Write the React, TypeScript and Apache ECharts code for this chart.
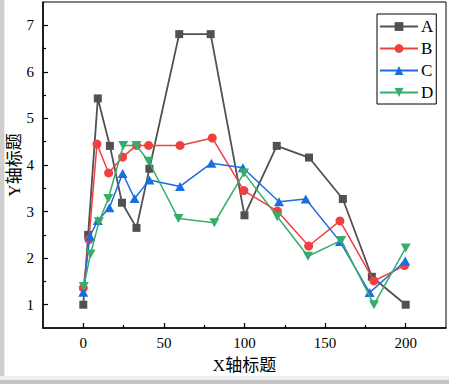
import React, { useEffect, useRef } from "react";
import * as echarts from "echarts";

const seriesNames = ["A", "B", "C", "D"];
const seriesColors = ["#515151", "#F14040", "#1A6FDF", "#37AD6B"];
const seriesSymbols = ["rect", "circle", "triangle", "path://M0,0 L10,0 L5,9 Z"];

const dataA = [[0, 1.0], [3, 2.5], [9, 5.43], [16.5, 4.41], [24, 3.19], [33, 2.65], [41, 3.92], [59.5, 6.81], [79, 6.81], [100, 2.92], [120, 4.41], [140, 4.16], [161, 3.27], [179, 1.6], [200, 1.0]];
const dataB = [[0, 1.36], [3.5, 2.4], [8.5, 4.45], [15.7, 3.83], [24.4, 4.17], [33, 4.42], [40.5, 4.42], [60, 4.42], [80, 4.58], [99.6, 3.45], [120.4, 3.01], [139.8, 2.26], [159.2, 2.8], [180.3, 1.51], [199.3, 1.84]];
const dataC = [[0, 1.27], [4.1, 2.47], [9, 2.81], [16.2, 3.08], [24.4, 3.82], [31.8, 3.28], [41, 3.68], [60, 3.54], [79.5, 4.04], [99, 3.94], [121.4, 3.21], [138, 3.27], [159.2, 2.36], [177.6, 1.26], [199.7, 1.94]];
const dataD = [[0.3, 1.39], [4.5, 2.09], [9.7, 2.78], [15.5, 3.28], [24.8, 4.42], [33, 4.42], [40.5, 4.08], [59, 2.85], [81.3, 2.76], [99.7, 3.83], [120.4, 2.89], [139.4, 2.04], [160, 2.38], [180.3, 1.0], [200, 2.22]];
const allData = [dataA, dataB, dataC, dataD];

const xMajorTicks = [0, 50, 100, 150, 200];
const xMinorTicks = [25, 75, 125, 175];
const yMajorTicks = [1, 2, 3, 4, 5, 6, 7];
const yMinorTicks = [1.5, 2.5, 3.5, 4.5, 5.5, 6.5];

const serif = "'Liberation Serif', 'Times New Roman', serif";
const titleFont = "'Liberation Serif', 'Noto Sans CJK SC', serif";

export default function App() {
  const ref = useRef<HTMLDivElement>(null);
  useEffect(() => {
    if (!ref.current) return;
    const chart = echarts.init(ref.current, undefined, { renderer: "svg" });
    const axisLineStyle = { color: "#000", width: 1.5 };
    const option: any = {
      animation: false,
      backgroundColor: "#ffffff",
      graphic: [
        { type: "rect", left: 0, top: 0, shape: { x: 0, y: 0, width: 4, height: 384 }, style: { fill: "#cfcfcf" }, silent: true },
        { type: "rect", left: 4, top: 0, shape: { x: 0, y: 0, width: 1, height: 380 }, style: { fill: "#ececec" }, silent: true },
        { type: "rect", left: 0, top: 376, shape: { x: 0, y: 0, width: 449, height: 4 }, style: { fill: "#eeeeee" }, silent: true },
        { type: "rect", left: 0, top: 380, shape: { x: 0, y: 0, width: 449, height: 4 }, style: { fill: "#c4c4c4" }, silent: true },
      ],
      grid: {
        left: 43, top: 2, right: 3, bottom: 56,
        containLabel: false,
        outerBoundsMode: "none",
        show: true, borderColor: "#000", borderWidth: 1, backgroundColor: "transparent",
      },
      legend: {
        orient: "vertical",
        left: 377,
        top: 14,
        data: seriesNames,
        itemWidth: 38,
        itemHeight: 11,
        itemGap: 5,
        padding: [4, 3, 3, 2],
        borderColor: "#000",
        borderWidth: 1,
        backgroundColor: "#fff",
        textStyle: { fontFamily: serif, fontSize: 17, color: "#000", lineHeight: 16, padding: [0, 0, 0, -2] },
      },
      xAxis: [
        {
          type: "value",
          min: -25,
          max: 225,
          interval: 25,
          position: "bottom",
          axisLine: { onZero: false, lineStyle: axisLineStyle },
          axisTick: { inside: true, length: 5, customValues: xMajorTicks, lineStyle: { color: "#000", width: 1.2 } },
          axisLabel: { customValues: xMajorTicks, fontFamily: serif, fontSize: 15, color: "#000", margin: 7 },
          splitLine: { show: false },
          name: "X轴标题",
          nameLocation: "middle",
          nameGap: 29,
          nameMoveOverlap: false,
          nameTextStyle: { fontFamily: titleFont, fontSize: 17, color: "#000" },
        },
        {
          type: "value",
          min: -25,
          max: 225,
          interval: 25,
          position: "bottom",
          axisLine: { show: false, onZero: false },
          axisTick: { inside: true, length: 3, customValues: xMinorTicks, lineStyle: { color: "#000", width: 1.2 } },
          axisLabel: { show: false },
          splitLine: { show: false },
        },
      ],
      yAxis: [
        {
          type: "value",
          min: 0.5,
          max: 7.5,
          interval: 0.5,
          position: "left",
          axisLine: { show: true, onZero: false, lineStyle: axisLineStyle },
          axisTick: { show: true, inside: true, length: 5, customValues: yMajorTicks, lineStyle: { color: "#000", width: 1.2 } },
          axisLabel: { customValues: yMajorTicks, fontFamily: serif, fontSize: 15, color: "#000", margin: 9 },
          splitLine: { show: false },
          name: "Y轴标题",
          nameLocation: "middle",
          nameGap: 20,
          nameRotate: 90,
          nameMoveOverlap: false,
          nameTextStyle: { fontFamily: titleFont, fontSize: 17, color: "#000" },
        },
        {
          type: "value",
          min: 0.5,
          max: 7.5,
          interval: 0.5,
          position: "left",
          axisLine: { show: false, onZero: false },
          axisTick: { show: true, inside: true, length: 3, customValues: yMinorTicks, lineStyle: { color: "#000", width: 1.2 } },
          axisLabel: { show: false },
          splitLine: { show: false },
        },
      ],
      series: seriesNames.map((name, i) => ({
        name,
        type: "line",
        data: allData[i],
        xAxisIndex: 0,
        yAxisIndex: 0,
        symbol: seriesSymbols[i],
        symbolSize: i === 0 ? 8 : i === 1 ? 9 : [10, 9],
        showAllSymbol: true,
        color: seriesColors[i],
        itemStyle: { color: seriesColors[i] },
        lineStyle: { color: seriesColors[i], width: i === 0 ? 1.8 : 1.5 },
        z: 2 + i,
      })),
    };
    chart.setOption(option);
    return () => chart.dispose();
  }, []);
  return (
    <div
      ref={ref}
      style={{ position: "fixed", left: 0, top: 0, width: 449, height: 384, background: "#fff" }}
    />
  );
}
